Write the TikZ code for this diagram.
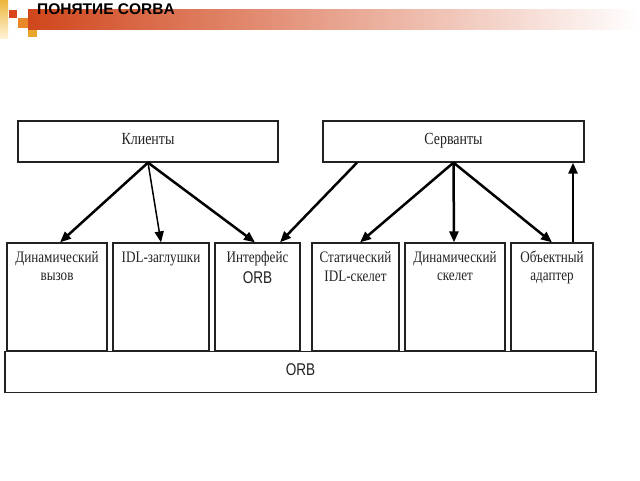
\documentclass[tikz,border=0pt]{standalone}
\usepackage{fontspec}
\usetikzlibrary{arrows.meta,calc}
\newfontfamily\serifc[FakeStretch=0.82]{Liberation Serif}
\newfontfamily\sansc[FakeStretch=0.80]{Liberation Sans}
\newfontfamily\titlefont{Liberation Sans}
\definecolor{barleft}{HTML}{D0461C}
\definecolor{barmid}{HTML}{E8967A}
\definecolor{goldtop}{HTML}{EDB43A}
\definecolor{goldbot}{HTML}{FFF3D6}
\definecolor{sqred}{HTML}{D9461C}
\definecolor{sqorange}{HTML}{E8882A}
\definecolor{sqgold}{HTML}{E9A62A}
\definecolor{ink}{HTML}{222222}
\tikzset{
  box/.style={draw=ink, line width=1.25pt, inner sep=0pt},
  lbl/.style={text=ink, font=\serifc\fontsize{16}{18}\selectfont, anchor=base, inner sep=0pt},
  arr/.style={draw=black, line width=2.5pt, -{Triangle[length=11pt,width=9pt]}},
}
\begin{document}
\begin{tikzpicture}[x=1pt,y=-1pt]
\useasboundingbox (0,0) rectangle (640,480);
% header decoration
\shade[top color=goldtop, bottom color=goldbot] (0,0) rectangle (8,38);
\fill[sqred] (9,10) rectangle (17,18);
\fill[sqorange] (18,18) rectangle (28,28);
\fill[sqgold] (28,28) rectangle (37,37);
\shade[left color=barleft, middle color=barmid, right color=white] (28,9) rectangle (640,29);
\node[anchor=base west, inner sep=0pt, font=\titlefont\bfseries\fontsize{15.5}{17}\selectfont] (title) at (37,14.5) {ПОНЯТИЕ CORBA};

% top boxes
\node[box, minimum width=260pt, minimum height=41pt] (kl) at (148,141.5) {};
\node[lbl, font=\serifc\fontsize{17}{19}\selectfont] (klt) at (148,144.5) {Клиенты};
\node[box, minimum width=261pt, minimum height=41pt] (sv) at (453.5,141.5) {};
\node[lbl, font=\serifc\fontsize{17}{19}\selectfont] (svt) at (453.5,144.5) {Серванты};

% bottom boxes
\node[box, minimum width=100pt, minimum height=108pt] (b1) at (57,297) {};
\node[box, minimum width=96pt, minimum height=108pt] (b2) at (161,297) {};
\node[box, minimum width=85pt, minimum height=108pt] (b3) at (257.5,297) {};
\node[box, minimum width=87pt, minimum height=108pt] (b4) at (355.5,297) {};
\node[box, minimum width=100pt, minimum height=108pt] (b5) at (455,297) {};
\node[box, minimum width=82pt, minimum height=108pt] (b6) at (552,297) {};
\node[box, minimum width=591pt, minimum height=41pt] (orb) at (300.5,372) {};

% labels
\node[lbl] (l1a) at (57,262.5) {Динамический};
\node[lbl] (l1b) at (57,280.5) {вызов};
\node[lbl] (l2a) at (161,262.5) {IDL-заглушки};
\node[lbl] (l3a) at (257.5,262.5) {Интерфейс};
\node[lbl, font=\sansc\fontsize{17}{19}\selectfont] (l3b) at (257.5,283.5) {ORB};
\node[lbl] (l4a) at (355.5,262.5) {Статический};
\node[lbl] (l4b) at (355.5,281.5) {IDL-скелет};
\node[lbl] (l5a) at (455,262.5) {Динамический};
\node[lbl] (l5b) at (455,280.5) {скелет};
\node[lbl] (l6a) at (552,262.5) {Объектный};
\node[lbl] (l6b) at (552,280.5) {адаптер};
\node[lbl, font=\sansc\fontsize{17}{19}\selectfont] (orbt) at (300.5,375) {ORB};

% connectors
\draw[arr] (kl.south) -- ([xshift=3pt]b1.north);
\draw[arr, line width=1.5pt] (kl.south) -- (b2.north);
\draw[arr] (kl.south) -- ([xshift=-2.5pt]b3.north);
\draw[arr] ([xshift=-96.5pt]sv.south) -- ([xshift=22.5pt]b3.north);
\draw[arr] (sv.south) -- ([xshift=4.5pt]b4.north);
\draw[arr] (sv.south) -- ([xshift=-1pt]b5.north);
\draw[arr] (sv.south) -- (b6.north);
\coordinate (up) at ([xshift=21pt]b6.north);
\draw[arr] (up) -- (up |- sv.south);
\end{tikzpicture}
\end{document}
